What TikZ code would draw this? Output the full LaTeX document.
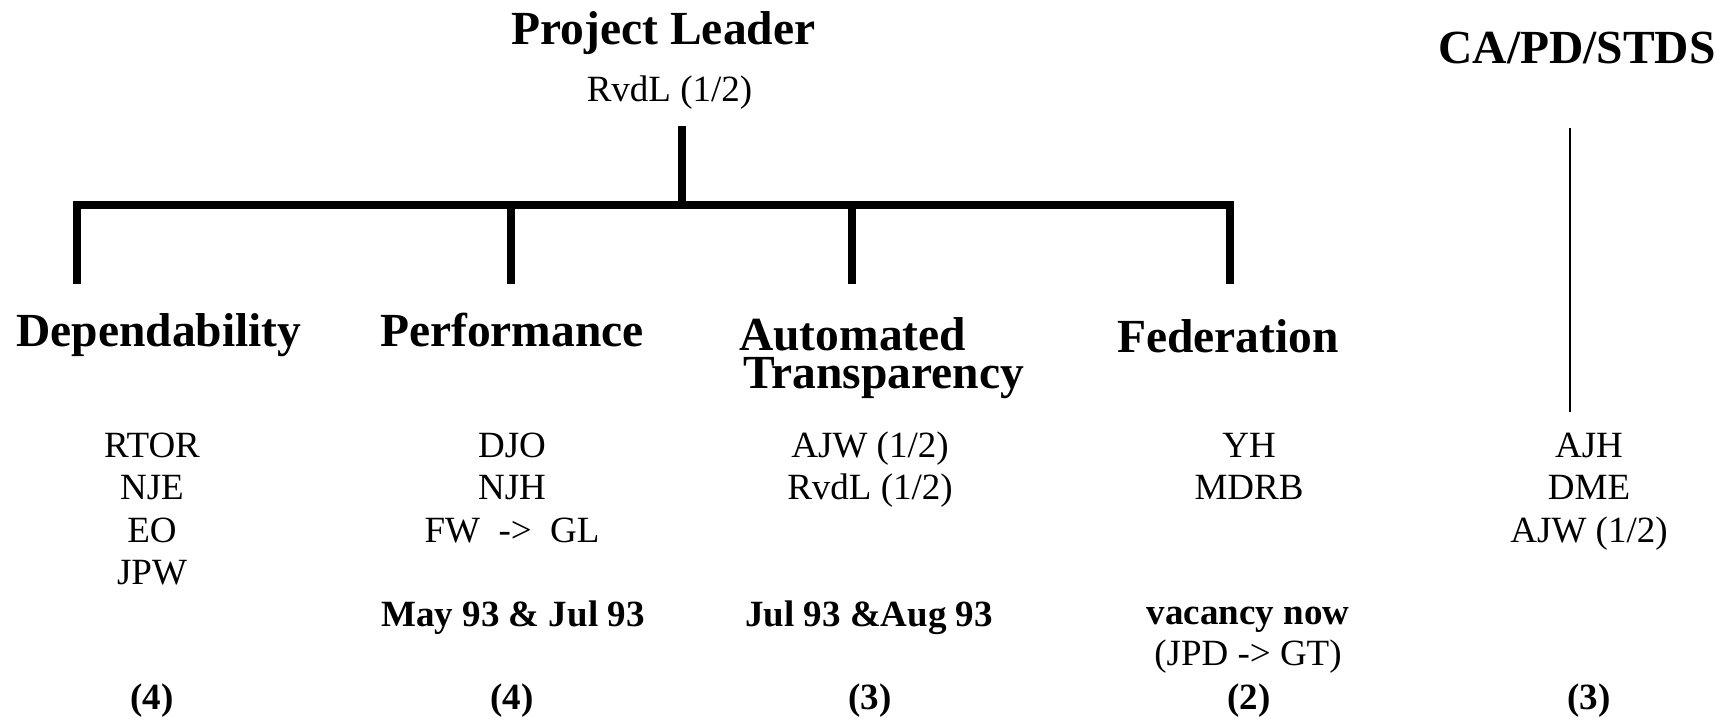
\documentclass[tikz,border=0pt]{standalone}
\usepackage{fontspec}
\setmainfont{Liberation Serif}
\begin{document}
\begin{tikzpicture}[x=1pt,y=-1pt,
  head/.style={inner sep=0pt,font=\bfseries\fontsize{47.5}{57}\selectfont},
  body/.style={inner sep=0pt,anchor=base,font=\fontsize{37}{44}\selectfont},
  bbody/.style={body,font=\bfseries\fontsize{37}{44}\selectfont},
  thickline/.style={line width=8pt,line cap=butt,line join=miter},
  thinline/.style={line width=2.5pt}]
\useasboundingbox[fill=white] (0,0) rectangle (1731,720);
% headings
\node[head,anchor=base] (pl) at (663.5,44) {Project Leader};
\node[head,anchor=base] (ca) at (1577,63) {CA/PD/STDS};
\node[head,anchor=base] (dep) at (159,346) {Dependability};
\node[head,anchor=base] (perf) at (512,346) {Performance};
\node[head,anchor=base west,text depth=0pt] (auto) at (739,350) {Automated};
\node[head,anchor=base west,text height=0.66em] (trans) at (743,388) {Transparency};
\node[head,anchor=base] (fed) at (1228,352) {Federation};
% leader
\node[body] (plr) at (669.5,101) {RvdL (1/2)};
% tree
\coordinate (stemtop) at (681.5,126);
\coordinate (stembot) at (681.5,205);
\coordinate (b1) at (77,205);
\coordinate (b2) at (511,205);
\coordinate (b3) at (852,205);
\coordinate (b4) at (1230,205);
\coordinate (e1) at (77,284);
\coordinate (e2) at (511,284);
\coordinate (e3) at (852,284);
\coordinate (e4) at (1230,284);
\draw[thickline] (e1) -- (b1) -- (b4) -- (e4);
\draw[thickline] (b2) -- (e2);
\draw[thickline] (b3) -- (e3);
\draw[thickline] (stemtop) -- (stembot);
\coordinate (catop) at (1570,128);
\coordinate (cabot) at (1570,412);
\draw[thinline] (catop) -- (cabot);
% Dependability
\node[body] (d1) at (152,457) {RTOR};
\node[body] (d2) at (152,499) {NJE};
\node[body] (d3) at (152,542) {EO};
\node[body] (d4) at (152,584) {JPW};
\node[bbody] (dc) at (152,709) {(4)};
% Performance
\node[body] (p1) at (512,457) {DJO};
\node[body] (p2) at (512,499) {NJH};
\node[body] (p3) at (512,542) {FW\ \ ->\ \ GL};
\node[bbody] (p4) at (513,626) {May 93 \& Jul 93};
\node[bbody] (pc) at (512,709) {(4)};
% Automated Transparency
\node[body] (a1) at (870,457) {AJW (1/2)};
\node[body] (a2) at (870,499) {RvdL (1/2)};
\node[bbody] (a3) at (869,626) {Jul 93 \&Aug 93};
\node[bbody] (ac) at (870,709) {(3)};
% Federation
\node[body] (f1) at (1249,457) {YH};
\node[body] (f2) at (1249,499) {MDRB};
\node[bbody] (f3) at (1248,624) {vacancy now};
\node[body] (f4) at (1248,665) {(JPD -> GT)};
\node[bbody] (fc) at (1249,709) {(2)};
% CA/PD/STDS
\node[body] (c1) at (1589,457) {AJH};
\node[body] (c2) at (1589,499) {DME};
\node[body] (c3) at (1589,542) {AJW (1/2)};
\node[bbody] (cc) at (1589,709) {(3)};
\end{tikzpicture}
\end{document}
